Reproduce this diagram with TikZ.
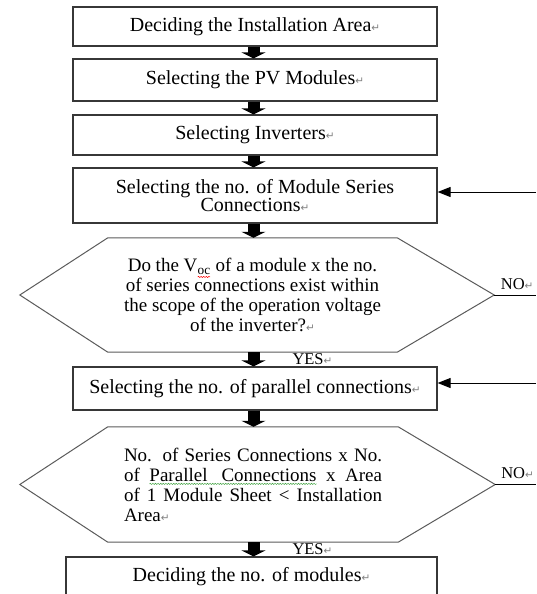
\documentclass[tikz,border=0pt]{standalone}
\usepackage{fontspec}
\setmainfont{Liberation Serif}
\newfontfamily\markfont{DejaVu Sans}
\usepackage{tikz}
\usetikzlibrary{arrows.meta,decorations.pathmorphing}

\definecolor{frame}{RGB}{55,55,55}
\definecolor{hexline}{RGB}{90,90,90}
\definecolor{wavegreen}{RGB}{70,165,70}

\newcommand\wavy[2]{\tikz[baseline=(w.base), x=1cm, y=1cm]{%
  \node[inner sep=0pt, outer sep=0pt, minimum width=0pt, minimum height=0pt,
    align=left, font={}, anchor=base] (w) at (0,0) {#2};
  \draw[#1, line width=0.5pt, decorate, decoration={snake, amplitude=0.6pt, segment length=2.6pt}]
    ([yshift=-2.8pt]w.base west) -- ([yshift=-2.8pt]w.base east);}}
\newcommand\pmark{{\markfont\fontsize{10.5}{10}\selectfont\textcolor{gray}{↵}}}

\begin{document}
\begin{tikzpicture}[x=1pt, y=-1pt,
  box/.style={draw=frame, line width=1.2pt, minimum width=364, align=center,
    inner sep=2pt, font=\fontsize{20}{18}\selectfont},
  chk/.style={inner sep=0pt, align=center, font=\fontsize{19}{20}\selectfont},
  hex/.style={draw=hexline, line width=1pt},
  blockarrow/.style={line width=12pt, -{Triangle[width=24pt,length=6pt]}},
  ret/.style={line width=1pt, -{Triangle[width=10pt,length=13pt]}},
  answer/.style={font=\fontsize{16.5}{16}\selectfont, inner sep=1pt}]

  \useasboundingbox (0,0) rectangle (536,594);

  \coordinate (col) at (253.5,0);
  \coordinate (edge) at (536,0);

  \node[box, minimum height=39] (area) at (255,26.5) {Deciding the Installation Area\pmark};
  \node[box, minimum height=42] (pv) at (255,80) {Selecting the PV Modules\pmark};
  \node[box, minimum height=40] (inv) at (255,135) {Selecting Inverters\pmark};
  \node[box, minimum height=55] (series) at (255,195.5) {Selecting the no. of Module Series\\Connections\pmark};

  \node[chk, minimum width=289, minimum height=114] (chk1) at (252.5,295)
    {Do the V\textsubscript{\wavy{red}{oc}} of a module x the no.\\
     of series connections exist within\\
     the scope of the operation voltage\\
     of the inverter?\pmark};
  \coordinate (tip1) at ([xshift=97pt]chk1.east);
  \draw[hex] (chk1.north west) -- (chk1.north east) -- (tip1) -- (chk1.south east)
    -- (chk1.south west) -- ([xshift=-88pt]chk1.west) -- cycle;

  \node[box, minimum height=43] (par) at (255,388.5) {Selecting the no. of parallel connections\pmark};

  \node[chk, align=left, minimum width=290, minimum height=115] (chk2) at (253,484.5)
    {\makebox[258pt][s]{No. of Series Connections x No.}\\
     \makebox[258pt][s]{of \wavy{wavegreen}{Parallel\hspace{14pt}Connections} x Area}\\
     \makebox[258pt][s]{of 1 Module Sheet < Installation}\\
     Area\pmark};
  \coordinate (tip2) at ([xshift=97pt]chk2.east);
  \draw[hex] (chk2.north west) -- (chk2.north east) -- (tip2) -- (chk2.south east)
    -- (chk2.south west) -- ([xshift=-88pt]chk2.west) -- cycle;

  \node[box, minimum width=371, minimum height=40] (num) at (251.5,577) {Deciding the no. of modules\pmark};

  \draw[blockarrow] (area.south -| col) -- (pv.north -| col);
  \draw[blockarrow] (pv.south -| col) -- (inv.north -| col);
  \draw[blockarrow] (inv.south -| col) -- (series.north -| col);
  \draw[blockarrow] (series.south -| col) -- (chk1.north -| col);
  \draw[blockarrow] (chk1.south -| col) -- node[answer, anchor=west, xshift=32pt] (yes1) {YES\pmark} (par.north -| col);
  \draw[blockarrow] (par.south -| col) -- (chk2.north -| col);
  \draw[blockarrow] (chk2.south -| col) -- node[answer, anchor=west, xshift=32pt] (yes2) {YES\pmark} (num.north -| col);

  \draw[line width=1pt] (tip1) -- node[answer, above, pos=0.55, yshift=4pt] (no1) {NO\pmark} (tip1 -| edge);
  \draw[line width=1pt] (tip2) -- node[answer, above, pos=0.55, yshift=4pt] (no2) {NO\pmark} (tip2 -| edge);

  \coordinate (back1) at (536,192);
  \coordinate (back2) at (536,383);
  \draw[ret] (back1) -- (back1 -| series.east);
  \draw[ret] (back2) -- (back2 -| par.east);

\end{tikzpicture}
\end{document}
